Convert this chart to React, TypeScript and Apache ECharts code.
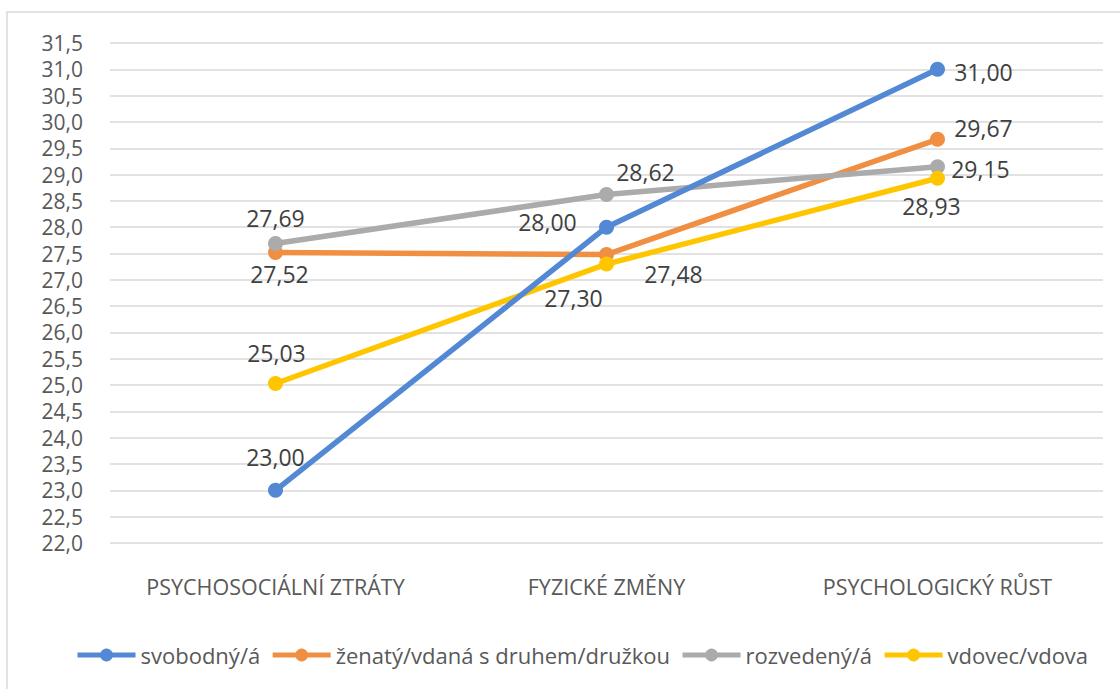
import React, { useEffect, useRef } from "react";
import * as echarts from "echarts";

const categories = ["PSYCHOSOCIÁLNÍ ZTRÁTY", "FYZICKÉ ZMĚNY", "PSYCHOLOGICKÝ RŮST"];
const seriesNames = ["svobodný/á", "ženatý/vdaná s druhem/družkou", "rozvedený/á", "vdovec/vdova"];
const svobodny = [23.0, 28.0, 31.0];
const zenaty = [27.52, 27.48, 29.67];
const rozvedeny = [27.69, 28.62, 29.15];
const vdovec = [25.03, 27.3, 28.93];
const yMin = 22;
const yMax = 31.5;
const yStep = 0.5;

const colors = ["#5288D4", "#F08F41", "#ABABAB", "#FFC600"];
// label offsets (dx, dy) from the point centre, per series and category
const labelOffsets: number[][][] = [
  [[0, -33], [-59, -5], [46, 3]],
  [[4, 22], [67, 19], [46, -11]],
  [[0, -26], [39, -23], [43, 2]],
  [[1, -31], [-33, 34], [-6, 28]],
];

const fmt = (v: number, d: number) => v.toFixed(d).replace(".", ",");

export default function App() {
  const ref = useRef<HTMLDivElement>(null);
  useEffect(() => {
    if (!ref.current) return;
    const chart = echarts.init(ref.current, null, { renderer: "svg" });
    const allData = [svobodny, zenaty, rozvedeny, vdovec];
    const font = "'Open Sans', 'Noto Sans', sans-serif";
    chart.setOption({
      animation: false,
      backgroundColor: "#ffffff",
      textStyle: { fontFamily: font },
      graphic: [
        {
          type: "rect",
          shape: { x: 7, y: 12, width: 1130, height: 700 },
          style: { fill: "none", stroke: "#d9d9d9", lineWidth: 1.5 },
          silent: true,
        },
      ],
      grid: { left: 110, right: 17, top: 43, bottom: 146 },
      legend: {
        bottom: 18,
        left: 70,
        itemWidth: 58,
        itemHeight: 16,
        itemGap: 10,
        lineStyle: { width: 5 },
        textStyle: { fontSize: 22, color: "#595959", fontFamily: font },
        data: seriesNames,
      },
      xAxis: {
        type: "category",
        data: categories,
        boundaryGap: true,
        axisLine: { show: false },
        axisTick: { show: false },
        axisLabel: { interval: 0, fontSize: 21.5, color: "#595959", margin: 32, fontFamily: font },
      },
      yAxis: {
        type: "value",
        min: yMin,
        max: yMax,
        interval: yStep,
        axisLine: { show: false },
        axisTick: { show: false },
        axisLabel: {
          fontSize: 21,
          color: "#595959",
          margin: 27,
          fontFamily: font,
          formatter: (v: number) => fmt(v, 1),
        },
        splitLine: { lineStyle: { color: "#d9d9d9", width: 1.5 } },
      },
      series: allData.map((arr, si) => ({
        name: seriesNames[si],
        type: "line",
        color: colors[si],
        symbol: "circle",
        symbolSize: 15,
        lineStyle: { width: 5.5, color: colors[si] },
        itemStyle: { color: colors[si] },
        z: si === 0 ? 5 : 3 + si * 0.1,
        data: arr.map((v, ci) => ({
          value: v,
          label: {
            show: true,
            position: "inside",
            offset: labelOffsets[si][ci],
            align: "center",
            verticalAlign: "middle",
            fontSize: 23,
            color: "#404040",
            fontFamily: font,
            formatter: () => fmt(v, 2),
          },
        })),
      })),
    });
    return () => chart.dispose();
  }, []);
  return (
    <div
      ref={ref}
      style={{ position: "absolute", left: 0, top: 0, width: 1120, height: 689, background: "#fff" }}
    />
  );
}
